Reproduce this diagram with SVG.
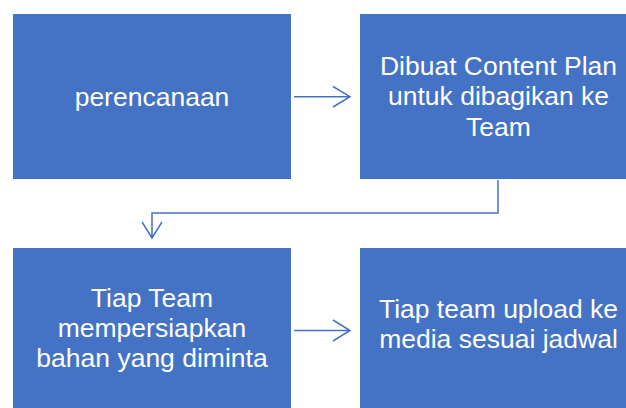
<svg xmlns="http://www.w3.org/2000/svg" width="626" height="408" viewBox="0 0 626 408">
<style>
.box{fill:#4472C4;stroke:#ffffff;stroke-width:1}
.t{fill:#ffffff;font-family:"Liberation Sans",Arial,sans-serif;font-size:26.5px;text-anchor:middle}
.c{fill:none;stroke:#4472C4;stroke-width:1.5}
</style>
<rect width="626" height="408" fill="#ffffff"/>
<g id="node1"><rect class="box" x="12.5" y="13.5" width="279" height="166"/><text class="t" x="152" y="106">perencanaan</text></g>
<g id="node2"><rect class="box" x="359.5" y="13.5" width="279" height="166"/><text class="t" x="498.5" y="74.5">Dibuat Content Plan</text><text class="t" x="498.5" y="105">untuk dibagikan ke</text><text class="t" x="498.5" y="135.5">Team</text></g>
<g id="node3"><rect class="box" x="12.5" y="247.5" width="279" height="166"/><text class="t" x="152" y="306.5">Tiap Team</text><text class="t" x="152" y="336.5">mempersiapkan</text><text class="t" x="152" y="367">bahan yang diminta</text></g>
<g id="node4"><rect class="box" x="359.5" y="247.5" width="279" height="166"/><text class="t" x="498.5" y="318">Tiap team upload ke</text><text class="t" x="498.5" y="348">media sesuai jadwal</text></g>
<g id="connectors">
<path class="c" d="M294 96.7H350M333 86.5L350 96.7L333 107"/>
<path class="c" d="M498 180V213H152V238M142 222L152 238L162 222"/>
<path class="c" d="M294 330.5H350M333 320L350 330.5L333 341"/>
</g>
</svg>
